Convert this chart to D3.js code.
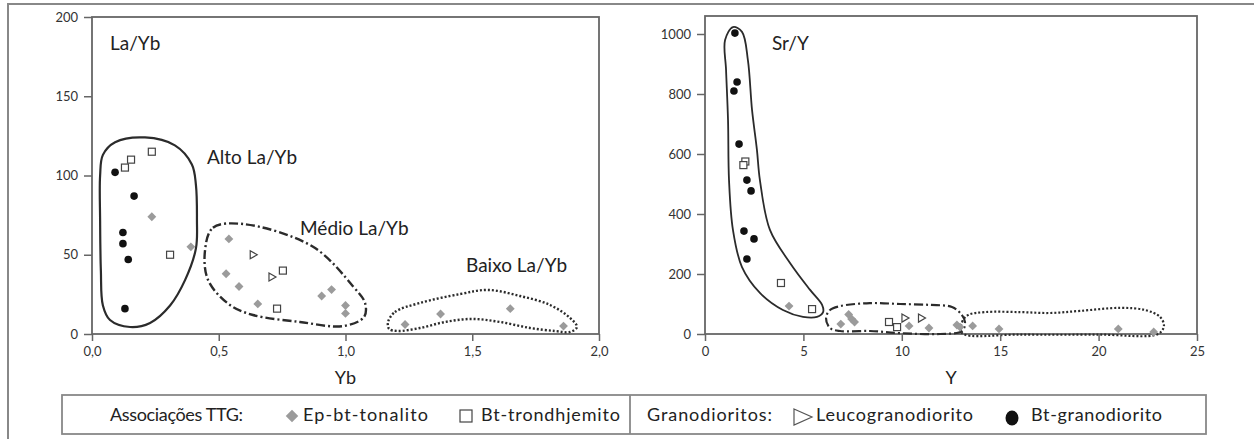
<!DOCTYPE html>
<html>
<head>
<meta charset="utf-8">
<script src="https://cdn.jsdelivr.net/npm/d3@7"></script>
<style>
  body { margin: 0; background: #fff; }
  text { font-family: Lato, "Open Sans", sans-serif; fill: #222; }
  .tick text { font-size: 13px; fill: #333; }
  .tick line { stroke: #666; stroke-width: 1.5; }
</style>
</head>
<body>
<div id="chart"></div>
<script>
// La/Yb vs Yb  [Yb, La/Yb]
var laybTonalito = [[0.236,74],[0.39,55],[0.54,60],[0.529,38],[0.58,30],[0.654,19],[0.906,24],[0.945,28],[1.0,18],[1.0,13],[1.235,6],[1.375,12.6],[1.65,16],[1.86,5]];
var laybTrond = [[0.13,105],[0.154,110],[0.236,115],[0.308,50],[0.753,40],[0.73,16]];
var laybLeuco = [[0.636,50],[0.71,36]];
var laybBtGd = [[0.091,102],[0.166,87],[0.122,64],[0.122,57],[0.143,47],[0.13,16]];

// Sr/Y vs Y  [Y, Sr/Y]
var srTonalito = [[4.27,93],[6.9,33],[7.3,65],[7.45,50],[7.6,40],[10.37,27],[11.38,20],[12.8,30],[12.96,23],[13.6,27],[14.94,17],[21.0,17],[22.8,7]];
var srTrond = [[2.05,575],[1.95,563],[3.86,170],[5.44,83],[9.35,40],[9.76,23]];
var srLeuco = [[10.16,53],[11.0,53]];
var srBtGd = [[1.52,1003],[1.63,840],[1.47,810],[1.73,633],[2.13,513],[2.34,477],[1.98,343],[2.49,317],[2.13,250]];

// field outlines (data units)
var altoField = [[0.032,100],[0.043,113],[0.091,121],[0.209,124],[0.327,119],[0.394,107],[0.41,94],[0.414,72],[0.41,54],[0.367,34],[0.308,18],[0.229,7],[0.15,4.4],[0.071,8.8],[0.043,18],[0.035,40],[0.032,72]];
var medioField = [[0.446,53],[0.477,67],[0.596,69.4],[0.872,55],[1.03,30],[1.077,19.6],[1.073,10.7],[0.99,5],[0.82,7.6],[0.635,12],[0.544,18.3],[0.458,34]];
var baixoField = [[1.168,7.6],[1.195,13.9],[1.294,19.6],[1.452,25.2],[1.562,27.8],[1.688,24],[1.807,18.3],[1.886,10.1],[1.913,4.4],[1.886,1.3],[1.826,1.9],[1.728,3.8],[1.609,7.6],[1.499,9.5],[1.393,7.6],[1.294,3.8],[1.207,1.9],[1.172,3.2]];
var srHighField = [[1.42,1023],[1.88,1007],[2.18,913],[2.39,747],[2.64,613],[2.79,513],[3.3,347],[4.32,237],[5.34,147],[5.95,97],[6.0,73],[5.69,57],[4.98,57],[3.96,80],[2.79,137],[1.88,223],[1.42,347],[1.22,513],[1.17,713],[1.07,880],[1.02,980]];
var srMidField = [[6.15,53],[6.35,80],[6.86,93],[8.38,103],[9.91,100],[11.43,97],[12.55,90],[13.01,67],[13.21,40],[13.06,10],[11.94,0],[9.91,3],[8.38,10],[6.86,10],[6.35,20]];
var srLowField = [[13.06,3],[13.06,40],[13.36,63],[14.23,73],[16.0,73],[17.53,70],[19.05,77],[21.09,87],[22.36,80],[23.12,57],[23.32,27],[23.02,0],[20,-2],[16,-2]];

var laybXTicks = [0, 0.5, 1, 1.5, 2];
var laybYTicks = [0, 50, 100, 150, 200];
var srXTicks = [0, 5, 10, 15, 20, 25];
var srYTicks = [0, 200, 400, 600, 800, 1000];

var svg = d3.select("#chart").append("svg")
  .attr("width", 1254)
  .attr("height", 439);

// outer frame (top + left only visible)
svg.append("path")
  .attr("d", "M8,439 L8,4 L1254,4")
  .attr("fill", "none")
  .attr("stroke", "#888")
  .attr("stroke-width", 2);

var comma = function(d) { return d3.format(".1f")(d).replace(".", ","); };

function makePanel(opt) {
  var x = d3.scaleLinear().domain(opt.xDomain).range(opt.xRange);
  var y = d3.scaleLinear().domain(opt.yDomain).range(opt.yRange);
  var g = svg.append("g");

  g.append("rect")
    .attr("x", opt.xRange[0])
    .attr("y", opt.yRange[1])
    .attr("width", opt.xRange[1] - opt.xRange[0])
    .attr("height", opt.yRange[0] - opt.yRange[1])
    .attr("fill", "none")
    .attr("stroke", "#666")
    .attr("stroke-width", 1.8);

  var line = d3.line()
    .x(function(d) { return x(d[0]); })
    .y(function(d) { return y(d[1]); })
    .curve(d3.curveCatmullRomClosed.alpha(0.5));

  opt.fields.forEach(function(f) {
    g.append("path")
      .attr("d", line(f.pts))
      .attr("fill", "none")
      .attr("stroke", "#2b2b2b")
      .attr("stroke-width", f.w)
      .attr("stroke-dasharray", f.dash);
  });

  g.append("g")
    .attr("transform", "translate(0," + opt.yRange[0] + ")")
    .call(d3.axisBottom(x).tickValues(opt.xTicks).tickSize(7).tickPadding(6).tickFormat(opt.xFmt))
    .call(function(s) { s.select(".domain").remove(); });

  g.append("g")
    .attr("transform", "translate(" + opt.xRange[0] + ",0)")
    .call(d3.axisLeft(y).tickValues(opt.yTicks).tickSize(8).tickPadding(6).tickFormat(d3.format("d")))
    .call(function(s) { s.select(".domain").remove(); });

  g.selectAll(".tick text").attr("font-family", "Lato, sans-serif");

  // markers
  g.selectAll(".dia").data(opt.ton).enter().append("path")
    .attr("d", d3.symbol().type(d3.symbolDiamond2).size(50))
    .attr("transform", function(d) { return "translate(" + x(d[0]) + "," + y(d[1]) + ")"; })
    .attr("fill", "#9b9b9b");

  g.selectAll(".sq").data(opt.trond).enter().append("rect")
    .attr("x", function(d) { return x(d[0]) - 3.5; })
    .attr("y", function(d) { return y(d[1]) - 3.5; })
    .attr("width", 7).attr("height", 7)
    .attr("fill", "#fff")
    .attr("stroke", "#444")
    .attr("stroke-width", 1.2);

  g.selectAll(".tri").data(opt.leuco).enter().append("path")
    .attr("d", "M-3,-4 L4,0 L-3,4 Z")
    .attr("transform", function(d) { return "translate(" + x(d[0]) + "," + y(d[1]) + ")"; })
    .attr("fill", "#fff")
    .attr("stroke", "#444")
    .attr("stroke-width", 1.2);

  g.selectAll(".dot").data(opt.bt).enter().append("circle")
    .attr("cx", function(d) { return x(d[0]); })
    .attr("cy", function(d) { return y(d[1]); })
    .attr("r", 3.8)
    .attr("fill", "#111");

  g.append("text")
    .attr("x", (opt.xRange[0] + opt.xRange[1]) / 2)
    .attr("y", 384)
    .attr("text-anchor", "middle")
    .style("font-size", "18px")
    .text(opt.xTitle);

  return { x: x, y: y, g: g };
}

var left = makePanel({
  xDomain: [0, 2], xRange: [92, 599],
  yDomain: [0, 200], yRange: [334, 17],
  xTicks: laybXTicks, yTicks: laybYTicks, xFmt: comma,
  ton: laybTonalito, trond: laybTrond, leuco: laybLeuco, bt: laybBtGd,
  fields: [
    { pts: altoField, w: 2.2, dash: null },
    { pts: medioField, w: 2.4, dash: "9,3,2,3" },
    { pts: baixoField, w: 2.4, dash: "2,2" }
  ],
  xTitle: "Yb"
});

var right = makePanel({
  xDomain: [0, 25], xRange: [705, 1197],
  yDomain: [0, 1060], yRange: [334, 16],
  xTicks: srXTicks, yTicks: srYTicks, xFmt: d3.format("d"),
  ton: srTonalito, trond: srTrond, leuco: srLeuco, bt: srBtGd,
  fields: [
    { pts: srHighField, w: 1.8, dash: null },
    { pts: srMidField, w: 2.2, dash: "9,3,2,3" },
    { pts: srLowField, w: 2.2, dash: "2,2" }
  ],
  xTitle: "Y"
});

// annotations
function label(x, y, t) {
  svg.append("text").attr("x", x).attr("y", y).style("font-size", "19px").text(t);
}
label(110, 50, "La/Yb");
label(207, 164, "Alto La/Yb");
label(300, 235, "Médio La/Yb");
label(466, 272, "Baixo La/Yb");
label(772, 50, "Sr/Y");

// legend
var leg = svg.append("g");
leg.append("rect")
  .attr("x", 62).attr("y", 395).attr("width", 1144).attr("height", 39)
  .attr("fill", "none").attr("stroke", "#888").attr("stroke-width", 1.8);
leg.append("line")
  .attr("x1", 630).attr("x2", 630).attr("y1", 395).attr("y2", 434)
  .attr("stroke", "#888").attr("stroke-width", 1.8);

function legText(x, w, t) {
  leg.append("text").attr("x", x).attr("y", 421)
    .style("font-size", "18px")
    .attr("textLength", w).attr("lengthAdjust", "spacing")
    .text(t);
}
legText(110, 133, "Associações TTG:");
leg.append("path")
  .attr("d", d3.symbol().type(d3.symbolDiamond2).size(100))
  .attr("transform", "translate(292,416)")
  .attr("fill", "#9b9b9b");
legText(303, 125, "Ep-bt-tonalito");
leg.append("rect")
  .attr("x", 460).attr("y", 410).attr("width", 12).attr("height", 12)
  .attr("fill", "#fff").attr("stroke", "#444").attr("stroke-width", 1.2);
legText(481, 139, "Bt-trondhjemito");
legText(647, 125, "Granodioritos:");
leg.append("path")
  .attr("d", "M794,409 L812,417 L794,425 Z")
  .attr("fill", "#fff").attr("stroke", "#555").attr("stroke-width", 1.2);
legText(816, 157, "Leucogranodiorito");
leg.append("ellipse")
  .attr("cx", 1012).attr("cy", 418).attr("rx", 6.5).attr("ry", 7.5)
  .attr("fill", "#111");
legText(1031, 131, "Bt-granodiorito");
</script>
</body>
</html>
